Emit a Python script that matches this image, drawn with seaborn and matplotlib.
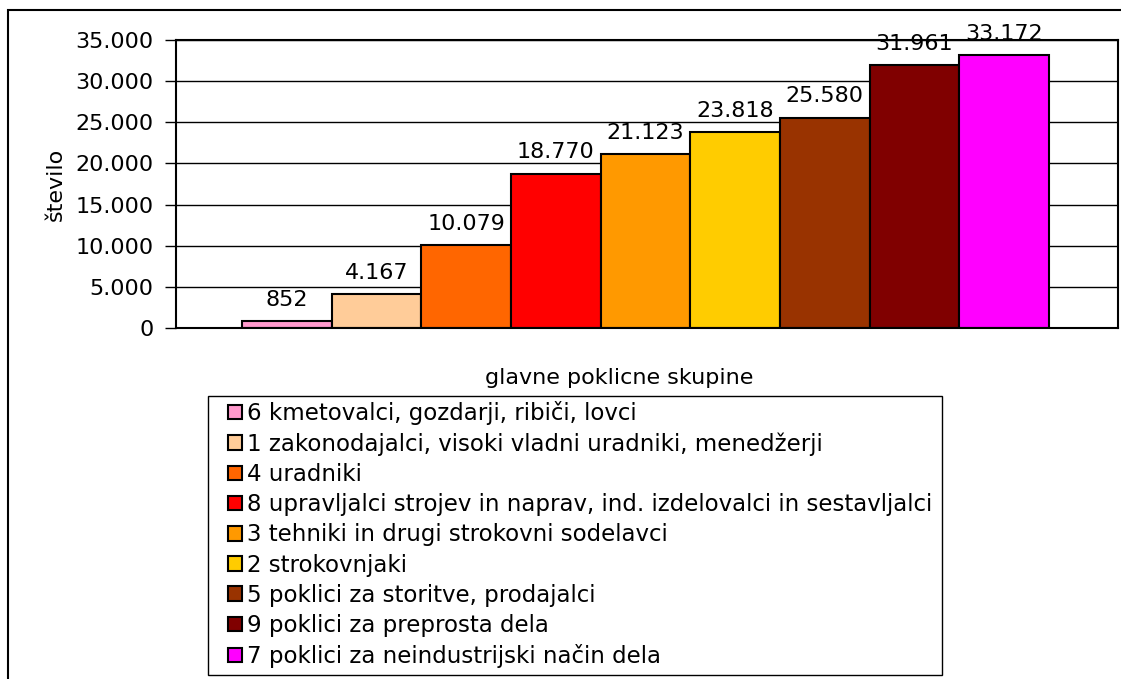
import matplotlib
matplotlib.use("Agg")
import matplotlib.pyplot as plt
import matplotlib.ticker as mticker
import seaborn as sns
import pandas as pd

# occupational groups, sorted by count
groups = [
    "6 kmetovalci, gozdarji, ribiči, lovci",
    "1 zakonodajalci, visoki vladni uradniki, menedžerji",
    "4 uradniki",
    "8 upravljalci strojev in naprav, ind. izdelovalci in sestavljalci",
    "3 tehniki in drugi strokovni sodelavci",
    "2 strokovnjaki",
    "5 poklici za storitve, prodajalci",
    "9 poklici za preprosta dela",
    "7 poklici za neindustrijski način dela",
]
counts = [852, 4167, 10079, 18770, 21123, 23818, 25580, 31961, 33172]
colors = ["#FF99CC", "#FFCC99", "#FF6600", "#FF0000", "#FF9900",
          "#FFCC00", "#993300", "#800000", "#FF00FF"]
yticks = [0, 5000, 10000, 15000, 20000, 25000, 30000, 35000]

df = pd.DataFrame({"skupina": groups, "stevilo": counts})


def dotted(v):
    return f"{int(v):,}".replace(",", ".")


sns.set_style("white")
plt.rcParams["font.family"] = ["DejaVu Sans"]
for k in ["text.color", "axes.labelcolor", "xtick.color", "ytick.color"]:
    plt.rcParams[k] = "black"

W, H = 1121, 679
fig = plt.figure(figsize=(W / 100, H / 100), dpi=100)
ax = fig.add_axes([176 / W, 1 - 328 / H, 942 / W, 288 / H])

sns.barplot(data=df, x="skupina", y="stevilo", hue="skupina",
            palette=colors, width=1, edgecolor="black", linewidth=1.5,
            saturation=1, legend=True, ax=ax)

for cont, v in zip(ax.containers, counts):
    ax.bar_label(cont, labels=[dotted(v)], padding=8, fontsize=16,
                 color="black")

ax.set_xlim(-1.236, 9.27)
ax.set_ylim(0, 35000)
ax.set_yticks(yticks)
ax.yaxis.set_major_formatter(mticker.FuncFormatter(lambda v, p: dotted(v)))
ax.set_xticks([])
ax.tick_params(axis="y", length=8, width=1, pad=8, labelsize=16,
               left=True, direction="out", colors="black")
ax.grid(axis="y", color="black", linewidth=1)
ax.set_axisbelow(True)
for sp in ax.spines.values():
    sp.set_visible(True)
    sp.set_color("black")
    sp.set_linewidth(1.5)

ax.set_ylabel("število", fontsize=16)
ax.yaxis.set_label_coords(-0.128, 0.5)
ax.set_xlabel("glavne poklicne skupine", fontsize=16)
ax.xaxis.set_label_coords((619 - 176) / 942, -50 / 288)
ax.xaxis.label.set_va("center")
ax.yaxis.label.set_va("center")

sns.move_legend(ax, loc="upper left", bbox_to_anchor=(228 / W, 1 - 401 / H),
                bbox_transform=fig.transFigure, title=None, fontsize=16.5,
                frameon=False, handlelength=0.6, handleheight=0.6,
                handletextpad=0.25, labelspacing=0.315, borderpad=0,
                borderaxespad=0)
leg = ax.get_legend()
for t in leg.get_texts():
    t.set_color("black")
for h in leg.legend_handles:
    h.set_edgecolor("black")
    h.set_linewidth(1.5)

# legend box
fig.add_artist(plt.Rectangle((208 / W, 1 - 675 / H), (942 - 208) / W,
                             (675 - 396) / H, transform=fig.transFigure,
                             fill=False, edgecolor="black", linewidth=1))

# outer chart frame
fig.add_artist(plt.Rectangle((8 / W, -0.1), 2, 1 - 10 / H + 0.1,
                             transform=fig.transFigure, fill=False,
                             edgecolor="black", linewidth=1.5))

fig.savefig("out.png", dpi=100)
